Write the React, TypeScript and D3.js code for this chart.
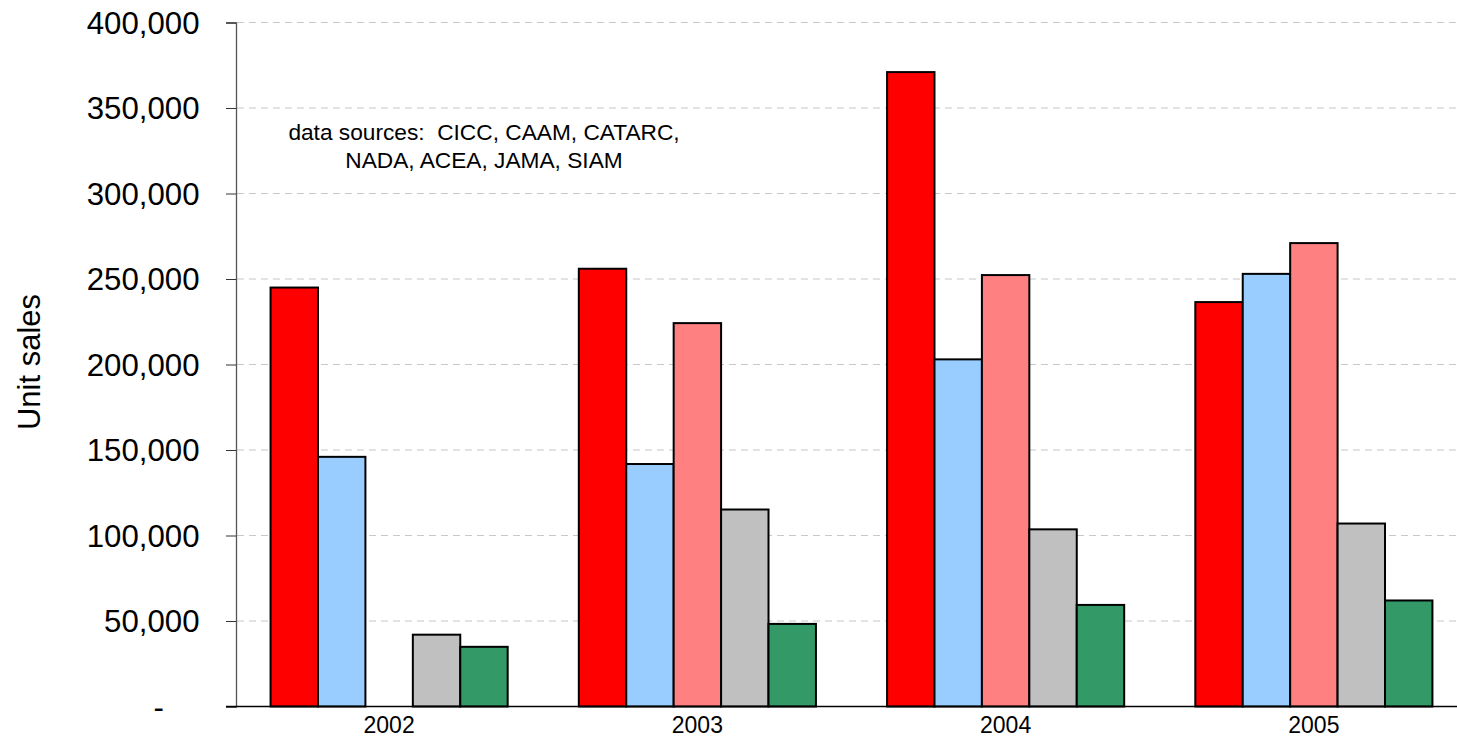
import { useEffect, useRef } from "react";
import * as d3 from "d3";

// years on the x axis
const years = ["2002", "2003", "2004", "2005"];

// series, in drawing order inside each year group
const seriesNames = ["s1", "s2", "s3", "s4", "s5"];
const seriesColors = ["#ff0000", "#99ccff", "#ff8080", "#c0c0c0", "#339966"];

// values per series, one per year (null = no bar)
const s1Values = [245000, 256000, 371000, 236500];
const s2Values = [146000, 141800, 203000, 253000];
const s3Values: (number | null)[] = [null, 224200, 252300, 271000];
const s4Values = [42000, 115200, 103600, 107000];
const s5Values = [34900, 48300, 59400, 62000];

const yTicks = [0, 50000, 100000, 150000, 200000, 250000, 300000, 350000, 400000];

const noteLines = ["data sources:  CICC, CAAM, CATARC,", "NADA, ACEA, JAMA, SIAM"];

const WIDTH = 1457;
const HEIGHT = 739;

export default function App() {
  const ref = useRef<SVGSVGElement | null>(null);

  useEffect(() => {
    if (!ref.current) return;
    document.body.style.margin = "0";

    const allSeries = [s1Values, s2Values, s3Values, s4Values, s5Values];
    const rows: { year: string; series: string; value: number; color: string }[] = [];
    years.forEach((year, yi) => {
      allSeries.forEach((vals, si) => {
        const v = vals[yi];
        if (v != null) {
          rows.push({ year, series: seriesNames[si], value: v, color: seriesColors[si] });
        }
      });
    });

    const left = 236;
    const top = 22.5;
    const bottom = 706.5;

    const svg = d3.select(ref.current);
    svg.selectAll("*").remove();

    const x0 = d3.scaleBand<string>().domain(years).range([235, 1468]).padding(0);
    const x1 = d3
      .scaleBand<string>()
      .domain(seriesNames)
      .range([0, x0.bandwidth()])
      .paddingInner(0)
      .paddingOuter(0.75);
    const y = d3.scaleLinear().domain([0, 400000]).range([bottom, top]);

    const font = "'Liberation Sans', Arial, sans-serif";

    // dashed gridlines
    svg
      .append("g")
      .selectAll("line")
      .data(yTicks.filter((t) => t > 0))
      .join("line")
      .attr("x1", left + 1)
      .attr("x2", WIDTH)
      .attr("y1", (d) => y(d))
      .attr("y2", (d) => y(d))
      .attr("stroke", "#c8c8c8")
      .attr("stroke-width", 1.2)
      .attr("stroke-dasharray", "7,5");

    // bars
    svg
      .append("g")
      .selectAll("rect")
      .data(rows)
      .join("rect")
      .attr("x", (d) => x0(d.year)! + x1(d.series)!)
      .attr("width", x1.bandwidth())
      .attr("y", (d) => y(d.value))
      .attr("height", (d) => y(0) - y(d.value))
      .attr("fill", (d) => d.color)
      .attr("stroke", "#000")
      .attr("stroke-width", 2);

    // y axis
    const yAxis = d3
      .axisLeft(y)
      .tickValues(yTicks)
      .tickSize(10)
      .tickFormat(() => "");
    const yg = svg.append("g").attr("transform", `translate(${left},0)`).call(yAxis);
    yg.select(".domain").attr("stroke", "#555").attr("stroke-width", 1.3);
    yg.selectAll(".tick line").attr("stroke", "#333");

    svg
      .append("g")
      .selectAll("text")
      .data(yTicks)
      .join("text")
      .attr("x", (d) => (d === 0 ? 164 : 199.5))
      .attr("y", (d) => y(d))
      .attr("dy", "0.36em")
      .attr("text-anchor", "end")
      .attr("font-family", font)
      .attr("font-size", 31.2)
      .attr("fill", "#000")
      .text((d) => (d === 0 ? "-" : d3.format(",")(d)));

    // x axis baseline
    svg
      .append("line")
      .attr("x1", left - 10)
      .attr("x2", WIDTH)
      .attr("y1", y(0))
      .attr("y2", y(0))
      .attr("stroke", "#000")
      .attr("stroke-width", 1.5);

    svg
      .append("g")
      .selectAll("text")
      .data(years)
      .join("text")
      .attr("x", (d) => x0(d)! + x0.bandwidth() / 2)
      .attr("y", 733)
      .attr("text-anchor", "middle")
      .attr("font-family", font)
      .attr("font-size", 23)
      .attr("fill", "#000")
      .text((d) => d);

    // y title
    svg
      .append("text")
      .attr("transform", `translate(40,362) rotate(-90)`)
      .attr("text-anchor", "middle")
      .attr("font-family", font)
      .attr("font-size", 31)
      .attr("fill", "#000")
      .text("Unit sales");

    // data source note
    svg
      .append("g")
      .selectAll("text")
      .data(noteLines)
      .join("text")
      .attr("x", 484)
      .attr("y", (_, i) => 140 + i * 27.5)
      .attr("text-anchor", "middle")
      .attr("font-family", font)
      .attr("font-size", 22.7)
      .attr("fill", "#000")
      .style("white-space", "pre")
      .text((d) => d);
  }, []);

  return (
    <svg
      ref={ref}
      width={WIDTH}
      height={HEIGHT}
      style={{ position: "absolute", left: 0, top: 0, background: "#fff" }}
    />
  );
}
